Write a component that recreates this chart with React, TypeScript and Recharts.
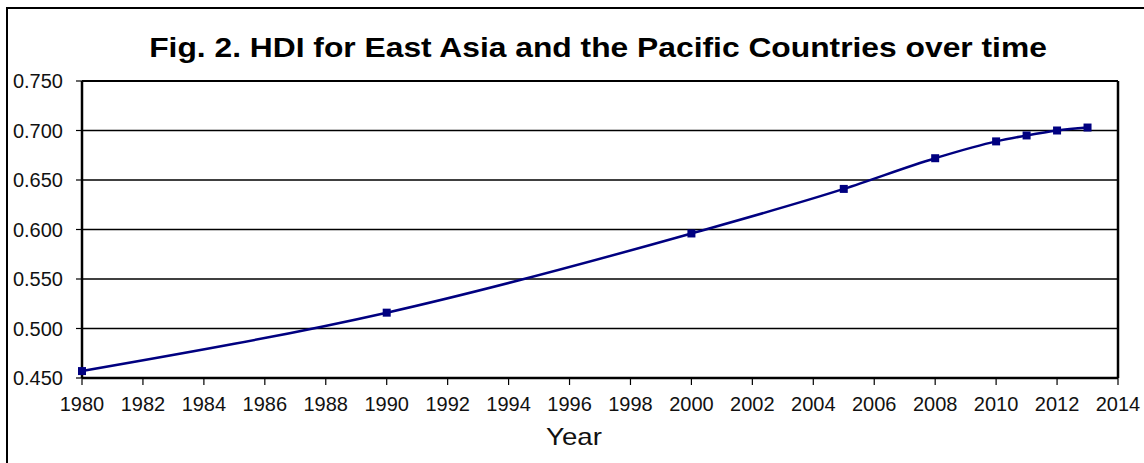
import React from "react";
import {
  LineChart,
  Line,
  XAxis,
  YAxis,
  CartesianGrid,
  ReferenceLine,
} from "recharts";

// HDI, East Asia and the Pacific
const years = [1980, 1990, 2000, 2005, 2008, 2010, 2011, 2012, 2013];
const hdi = [0.457, 0.516, 0.596, 0.641, 0.672, 0.689, 0.695, 0.7, 0.703];

const yearTicks = [
  1980, 1982, 1984, 1986, 1988, 1990, 1992, 1994, 1996, 1998, 2000, 2002,
  2004, 2006, 2008, 2010, 2012, 2014,
];
const hdiTicks = [0.45, 0.5, 0.55, 0.6, 0.65, 0.7, 0.75];

const data = years.map((year, i) => ({ year, hdi: hdi[i] }));

const FONT = '"Liberation Sans", Arial, sans-serif';
const NAVY = "#000080";

const SquareDot = (props: any) => {
  const { cx, cy, index } = props;
  if (cx == null || cy == null) return <g key={`d-${index}`} />;
  return (
    <rect
      key={`d-${index}`}
      x={cx - 4}
      y={cy - 4}
      width={8}
      height={8}
      fill={NAVY}
      stroke="none"
    />
  );
};

export default function App() {
  return (
    <div
      style={{
        position: "absolute",
        left: 0,
        top: 0,
        width: 1144,
        height: 463,
        overflow: "hidden",
        background: "#fff",
        fontFamily: FONT,
      }}
    >
      {/* outer frame, only the top and left edges fall inside */}
      <div
        style={{
          position: "absolute",
          left: 6,
          top: 7,
          width: 1200,
          height: 500,
          borderTop: "2px solid #000",
          borderLeft: "2px solid #000",
        }}
      />
      <div
        style={{
          position: "absolute",
          left: 598,
          top: 34,
          transform: "translateX(-50%) scaleX(1.135)",
          whiteSpace: "nowrap",
          fontSize: 28,
          lineHeight: "28px",
          fontWeight: "bold",
          color: "#000",
        }}
      >
        Fig. 2. HDI for East Asia and the Pacific Countries over time
      </div>
      <div style={{ position: "absolute", left: 0, top: 0 }}>
        <LineChart
          width={1144}
          height={463}
          data={data}
          margin={{ top: 81, right: 26, bottom: 45, left: 0 }}
        >
          <CartesianGrid
            vertical={false}
            stroke="#000"
            strokeWidth={1.5}
          />
          <XAxis
            dataKey="year"
            type="number"
            domain={[1980, 2014]}
            ticks={yearTicks}
            interval={0}
            height={40}
            tickSize={7}
            tickMargin={12}
            axisLine={{ stroke: "#000", strokeWidth: 2.5 }}
            tickLine={{ stroke: "#000", strokeWidth: 1.2 }}
            tick={{ fontSize: 20, fill: "#111", fontFamily: FONT }}
          />
          <YAxis
            type="number"
            domain={[0.45, 0.75]}
            ticks={hdiTicks}
            interval={0}
            width={82}
            tickSize={6}
            tickMargin={13}
            tickFormatter={(v: number) => v.toFixed(3)}
            axisLine={{ stroke: "#000", strokeWidth: 2.5 }}
            tickLine={{ stroke: "#000", strokeWidth: 1.2 }}
            tick={{ fontSize: 20, fill: "#111", fontFamily: FONT }}
          />
          <ReferenceLine y={0.75} stroke="#000" strokeWidth={2} />
          <ReferenceLine x={2014} stroke="#000" strokeWidth={2.5} />
          <Line
            type="monotone"
            dataKey="hdi"
            stroke={NAVY}
            strokeWidth={2.5}
            dot={SquareDot}
            activeDot={false}
            isAnimationActive={false}
          />
        </LineChart>
      </div>
      <div
        style={{
          position: "absolute",
          left: 574,
          top: 425,
          transform: "translateX(-50%) scaleX(1.15)",
          fontSize: 24,
          lineHeight: "24px",
          color: "#111",
        }}
      >
        Year
      </div>
    </div>
  );
}
